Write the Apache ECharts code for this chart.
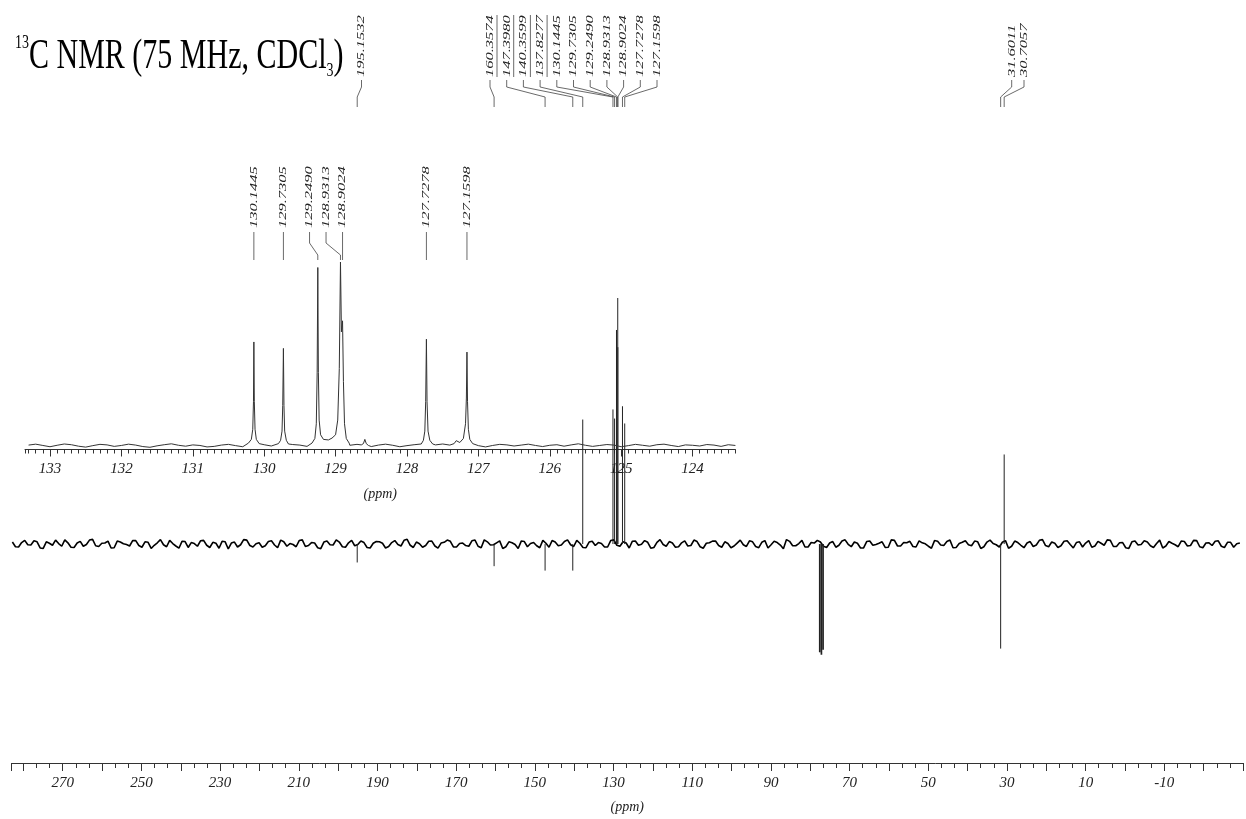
<!DOCTYPE html>
<html><head><meta charset="utf-8">
<script src="https://cdn.jsdelivr.net/npm/echarts@6/dist/echarts.min.js"></script>
<style>html,body{margin:0;padding:0;background:#fff}#c{width:1246px;height:819px}</style>
</head><body><div id="c"></div>
<script>
// ---------------- data ----------------
const mainTickLabels = [270,250,230,210,190,170,150,130,110,90,70,50,30,10,-10];
const insetTickLabels = [133,132,131,130,129,128,127,126,125,124];

// main spectrum (APT-like): peak positions (ppm) and heights (relative, tallest = 100)
const mainPeakPpm    = [195.1532,160.3574,147.3980,140.3599,137.8277,130.1445,129.7305,129.2490,128.9313,128.9024,127.7278,127.1598,31.6011,30.7057];
const mainPeakHeight = [-7.5,    -9,      -10.8,   -10.8,   50.6,    54.7,    51,      87,      100,     80,      56,      49,      -42.5,   36.4];
const solventPpm     = [77.58, 77.16, 76.74];
const solventHeight  = [-44,   -45,   -43];

// main baseline noise: two interleaved read-off traces, sampled evenly from 282.8 to -29.2 ppm
const mainNoiseStart = 282.8, mainNoiseEnd = -29.2;
const mainNoiseA = [
0.8,-1.2,1.5,-0.4,0.9,-1.8,0.3,1.6,-0.9,0.5,
-1.4,1.1,-0.2,1.9,-1.0,0.4,-1.6,1.2,0.1,-0.8,
1.4,-1.3,0.7,-0.5,1.8,-1.1,0.2,-1.7,1.0,0.6,
-0.9,1.5,-1.4,0.3,1.1,-2.0,0.8,-0.3,1.6,-1.2,
0.5,-0.7,1.3,-1.5,0.9,0.2,-1.1,1.7,-0.6,0.4,
-1.9,1.2,-0.4,0.8,-1.3,1.5,-0.2,0.6,-1.6,1.0,
0.3,-1.0,1.4,-0.8,1.9,-1.4,0.1,-0.6,1.2,-1.7,
0.7,1.1,-1.2,0.4,-0.9,1.6,-1.5,0.9,-0.3,1.3,
-1.1,0.5,-1.8,1.0,0.2,-0.7,1.5,-1.3,0.8,-0.4,
1.7,-1.0,0.3,-1.5,1.1,0.6,-1.2,1.4,-0.5,0.9,
-1.6,1.2,-0.1,0.7,-1.4,1.8,-0.9,0.4,-1.1,1.3,
-0.6,1.0,-1.7,0.5,1.2,-1.3,0.2,-0.8,1.6,-1.0,
0.9,-1.5,1.4,-0.3,0.6,-1.9,1.1,-0.7,1.5,-1.2,
0.4,0.8,-1.4,1.0,-0.5,1.7,-1.1,0.3,-1.6,1.2,
-0.2,0.9,-1.3,1.5,-0.8,0.5,-1.0,1.3,0.1,-1.7,
1.1,-0.6,1.6,-1.4,0.7,-0.3,1.2,-1.8,0.8,0.2,
-1.2,1.4,-0.9,0.6,-1.5,1.0,-0.4,1.8,-1.1,0.3,
-0.7,1.3,-1.6,0.9,0.4,-1.3,1.1,-0.5,1.5,-1.0,
0.6,-1.8,1.2,-0.2,0.8,-1.4,1.6,-0.8,0.3,-1.1,
1.0,-0.6,1.4,-1.5,0.5,1.1,-0.9,0.7,-1.3,0.4
];
const mainNoiseB = [
-1.1,0.6,-0.3,1.3,-1.6,0.9,-0.5,0.2,1.7,-1.3,
0.4,-0.9,1.6,-0.7,0.3,1.2,-1.5,0.8,-0.2,1.4,
-0.6,0.9,-1.8,0.5,-0.3,1.5,-0.8,1.1,-1.4,0.2,
1.3,-0.5,0.7,-1.7,0.9,0.4,-1.2,1.8,-0.6,0.1,
-1.3,1.0,-0.4,1.6,-0.9,-0.2,1.4,-1.0,0.6,-1.5,
0.8,-0.3,1.7,-1.1,0.5,-0.7,1.2,-1.4,0.3,0.9,
-1.6,0.6,-0.2,1.5,-0.5,0.8,-1.3,1.1,-0.8,0.4,
1.6,-1.2,0.2,-0.6,1.3,-0.9,1.7,-0.4,0.5,-1.8,
0.9,-0.2,1.2,-1.1,0.6,-1.5,0.3,1.4,-0.7,1.0,
-0.3,1.5,-1.4,0.8,-0.6,0.2,-1.2,1.7,-0.9,0.4,
1.1,-0.5,1.4,-1.7,0.7,-0.2,1.0,-1.3,0.5,-0.8,
1.6,-1.1,0.3,1.2,-0.6,0.9,-1.5,0.4,-0.3,1.3,
-1.0,0.7,-1.6,1.1,-0.4,1.8,-0.7,0.2,-1.2,0.6,
1.5,-0.9,0.4,-1.3,1.2,-0.1,0.8,-1.6,1.0,-0.5,
0.3,-1.4,1.7,-0.8,0.6,1.1,-1.2,0.5,-0.9,1.4,
-0.4,1.0,-1.5,0.2,1.3,-0.7,0.9,-1.1,1.6,-0.3,
0.7,-1.7,1.2,-0.5,0.4,-1.0,1.5,-0.6,0.8,-1.4,
1.1,-0.2,0.6,-1.2,1.4,-0.8,0.3,1.7,-1.0,0.5,
-1.5,0.9,-0.4,1.3,-0.7,0.2,-1.6,1.0,-0.3,1.2,
-0.8,1.5,-1.1,0.4,-0.6,1.3,-1.4,0.7,0.1,-0.9
];

// inset (expanded 133.3 - 123.4 ppm): baseline noise every 0.1 ppm
const insetNoiseStart = 133.3, insetNoiseStep = 0.1;
const insetNoise = [
0.4,0.9,0.2,-0.5,0.3,1.0,0.6,-0.2,-0.7,0.1,
0.8,0.5,-0.3,0.2,0.9,0.4,-0.4,-0.8,0.0,0.6,
1.1,0.3,-0.2,0.5,0.2,-0.6,-0.3,0.4,0.8,0.1,
-0.5,0.3,0.9,0.6,-0.1,-0.7,0.2,0.7,0.4,-0.3,
0.1,0.6,1.0,0.5,-0.2,0.3,0.8,0.2,-0.4,0.4,
0.9,0.3,-0.5,0.1,0.6,0.2,-0.3,0.5,1.0,0.4,
-0.2,0.3,0.7,0.1,-0.6,0.2,0.8,0.5,-0.1,0.4,
0.9,0.2,-0.4,0.3,0.6,-0.2,0.5,1.1,0.3,-0.3,
0.2,0.7,0.4,-0.5,0.1,0.8,0.3,-0.2,0.6,0.9,
0.2,-0.4,0.5,0.3,-0.1,0.7,0.4,-0.3,0.6,0.2
];
// inset peak profiles [ppm, intensity]
const insetPeak130_14 = [[130.22,1.5],[130.18,3.5],[130.16,9],[130.15,24],[130.1445,56.5],[130.138,24],[130.128,9],[130.11,3.5],[130.07,1.2]];
const insetPeak129_73 = [[129.80,1.2],[129.77,3],[129.75,8],[129.74,22],[129.7305,53],[129.723,22],[129.713,8],[129.69,3],[129.66,1]];
const insetPeak129_25 = [[129.33,1.5],[129.29,4],[129.27,12],[129.258,40],[129.249,97],[129.241,40],[129.23,14],[129.21,6],[129.17,3.5]];
const insetPeak128_93 = [[129.15,3],[129.10,3.2],[129.05,4.2],[129.00,6],[128.97,14],[128.948,42],[128.9313,100],[128.918,62],[128.9024,68],[128.89,35],[128.875,12],[128.85,4],[128.81,1.5]];
const insetPeak128_59 = [[128.64,0.5],[128.61,1.2],[128.59,3.5],[128.57,1.2],[128.54,0.2]];
const insetPeak127_73 = [[127.80,1],[127.77,3],[127.75,8],[127.738,24],[127.7278,58],[127.719,24],[127.705,8],[127.68,3],[127.64,1]];
const insetPeak127_16 = [[127.34,1.2],[127.31,2.8],[127.26,1.8],[127.21,4],[127.18,12],[127.168,26],[127.1598,51],[127.152,24],[127.14,9],[127.12,3.5],[127.08,1.2]];

// peak annotations
const topLabelsA = ['195.1532'];
const topLabelsB = ['160.3574','147.3980','140.3599','137.8277','130.1445','129.7305','129.2490','128.9313','128.9024','127.7278','127.1598'];
const topLabelsC = ['31.6011','30.7057'];
const underlinedLabels = ['160.3574','147.3980','140.3599','137.8277'];
const insetLabels = ['130.1445','129.7305','129.2490','128.9313','128.9024','127.7278','127.1598'];

// ---------------- build ----------------
const SERIF = '"Liberation Serif", "Times New Roman", serif';
const mainStep = (mainNoiseStart - mainNoiseEnd) / (mainNoiseA.length - 1);
const mainNoiseData = [];
mainNoiseA.forEach((v, i) => {
  mainNoiseData.push([mainNoiseStart - i * mainStep, v]);
  if (i < mainNoiseB.length && i < mainNoiseA.length - 1) mainNoiseData.push([mainNoiseStart - (i + 0.5) * mainStep, mainNoiseB[i]]);
});

const insetPeakSets = [insetPeak130_14, insetPeak129_73, insetPeak129_25, insetPeak128_93, insetPeak128_59, insetPeak127_73, insetPeak127_16];
const insetData = [];
insetNoise.forEach((v, i) => {
  const p = +(insetNoiseStart - i * insetNoiseStep).toFixed(3);
  const inside = insetPeakSets.some(s => p <= s[0][0] && p >= s[s.length - 1][0]);
  if (!inside) insetData.push([p, v]);
});
insetPeakSets.forEach(s => s.forEach(pt => insetData.push(pt)));
insetData.sort((a, b) => b[0] - a[0]);

const topItems = [];
[[topLabelsA, 361.5, 0], [topLabelsB, 490, 16.7], [topLabelsC, 1011.7, 12.3]].forEach(([arr, start, step]) => {
  arr.forEach((t, j) => topItems.push({ t, lx: start + j * step }));
});

const labelFont = 'italic 11px ' + SERIF;
function labelText(t, x, y) {
  return { type: 'text', x: x, y: y, rotation: Math.PI / 2, scaleX: 1.5,
    style: { text: t, font: labelFont, fill: '#222', textAlign: 'left', textVerticalAlign: 'middle' } };
}

const chart = echarts.init(document.getElementById('c'), null, { renderer: 'canvas' });
chart.setOption({
  animation: false,
  backgroundColor: '#ffffff',
  grid: [
    { left: 11.6, right: -3.3, top: 298, bottom: 54 },
    { left: 25, right: 510.6, top: 262, bottom: 369.5 }
  ],
  xAxis: [
    { gridIndex: 0, type: 'value', position: 'bottom', inverse: true, min: -30, max: 283, interval: 10,
      axisLine: { onZero: false, lineStyle: { color: '#333', width: 1 } },
      axisTick: { length: 8, lineStyle: { color: '#333' } },
      minorTick: { show: true, splitNumber: 3, length: 5, lineStyle: { color: '#333' } },
      splitLine: { show: false }, minorSplitLine: { show: false },
      axisLabel: { margin: 13, fontFamily: SERIF, fontStyle: 'italic', fontSize: 15, color: '#222',
        formatter: v => mainTickLabels.includes(Math.round(v)) && Math.abs(v - Math.round(v)) < 1e-6 ? String(Math.round(v)) : '' },
      name: '(ppm)', nameLocation: 'middle', nameGap: 37,
      nameTextStyle: { fontFamily: SERIF, fontStyle: 'italic', fontSize: 14, color: '#222' } },
    { gridIndex: 1, type: 'value', position: 'bottom', inverse: true, min: 123.4, max: 133.35, interval: 0.1,
      axisLine: { onZero: false, lineStyle: { color: '#333', width: 1 } },
      axisTick: { length: 4, lineStyle: { color: '#333' } },
      axisLabel: { show: false }, splitLine: { show: false } },
    { gridIndex: 1, type: 'value', position: 'bottom', offset: 0, inverse: true, min: 123.4, max: 133.35,
      axisLine: { show: false, onZero: false },
      axisTick: { length: 7, customValues: insetTickLabels, lineStyle: { color: '#333' } },
      axisLabel: { customValues: insetTickLabels, margin: 12, fontFamily: SERIF, fontStyle: 'italic', fontSize: 15, color: '#222' },
      splitLine: { show: false },
      name: '(ppm)', nameLocation: 'middle', nameGap: 38,
      nameTextStyle: { fontFamily: SERIF, fontStyle: 'italic', fontSize: 14, color: '#222' } }
  ],
  yAxis: [
    { gridIndex: 0, type: 'value', min: -89, max: 100, show: false },
    { gridIndex: 1, type: 'value', min: -2, max: 100, show: false }
  ],
  graphic: [{
    type: 'text', x: 15, y: 33, scaleY: 1.4,
    style: {
      text: '{sup|13}{m|C NMR (75 MHz, CDCl}{sub|3}{m|)}',
      textVerticalAlign: 'top',
      rich: {
        sup: { font: '14px ' + SERIF, fill: '#000', verticalAlign: 'top' },
        m: { font: '30px ' + SERIF, fill: '#000', lineHeight: 34 },
        sub: { font: '14px ' + SERIF, fill: '#000', verticalAlign: 'bottom' }
      }
    }
  }],
  series: [
    { type: 'line', xAxisIndex: 0, yAxisIndex: 0, data: mainNoiseData, showSymbol: false, symbol: 'none',
      lineStyle: { color: '#000', width: 1.6 }, z: 2 },
    { type: 'custom', xAxisIndex: 0, yAxisIndex: 0, clip: false, z: 3,
      data: mainPeakPpm.map((p, i) => [p, mainPeakHeight[i]]),
      renderItem: (params, api) => {
        const a = api.coord([api.value(0), 0]), b = api.coord([api.value(0), api.value(1)]);
        return { type: 'line', shape: { x1: a[0], y1: a[1], x2: b[0], y2: b[1] }, style: { stroke: '#222', lineWidth: 1 } };
      } },
    { type: 'custom', xAxisIndex: 0, yAxisIndex: 0, clip: false, z: 3,
      data: solventPpm.map((p, i) => [p, solventHeight[i]]),
      renderItem: (params, api) => {
        const a = api.coord([api.value(0), 0]), b = api.coord([api.value(0), api.value(1)]);
        return { type: 'line', shape: { x1: a[0], y1: a[1], x2: b[0], y2: b[1] }, style: { stroke: '#222', lineWidth: 1.7 } };
      } },
    { type: 'line', xAxisIndex: 1, yAxisIndex: 1, data: insetData, showSymbol: false, symbol: 'none',
      lineStyle: { color: '#333', width: 1 }, z: 4 },
    { type: 'custom', xAxisIndex: 0, yAxisIndex: 0, clip: false, z: 5,
      data: topItems.map(o => [parseFloat(o.t), 0]),
      renderItem: (params, api) => {
        const it = topItems[params.dataIndex];
        const px = api.coord([api.value(0), 0])[0];
        const children = [
          { type: 'polyline', shape: { points: [[it.lx, 80], [it.lx, 87], [px, 97], [px, 107]] }, style: { stroke: '#444', lineWidth: 0.8, fill: null } },
          labelText(it.t, it.lx, 77)
        ];
        if (underlinedLabels.includes(it.t)) {
          children.push({ type: 'line', shape: { x1: it.lx + 7, y1: 77, x2: it.lx + 7, y2: 15 }, style: { stroke: '#444', lineWidth: 0.8 } });
        }
        return { type: 'group', children };
      } },
    { type: 'custom', xAxisIndex: 1, yAxisIndex: 1, clip: false, z: 5,
      data: insetLabels.map(t => [parseFloat(t), 0]),
      renderItem: (params, api) => {
        const pxs = insetLabels.map(t => api.coord([parseFloat(t), 0])[0]);
        const lxs = pxs.slice();
        for (let j = lxs.length - 2; j >= 0; j--) lxs[j] = Math.min(pxs[j], lxs[j + 1] - 16.5);
        const i = params.dataIndex, px = pxs[i], lx = lxs[i];
        return { type: 'group', children: [
          { type: 'polyline', shape: { points: [[lx, 232], [lx, 243], [px, 255], [px, 260]] }, style: { stroke: '#444', lineWidth: 0.8, fill: null } },
          labelText(insetLabels[i], lx, 228)
        ] };
      } }
  ]
});
</script>
</body></html>
